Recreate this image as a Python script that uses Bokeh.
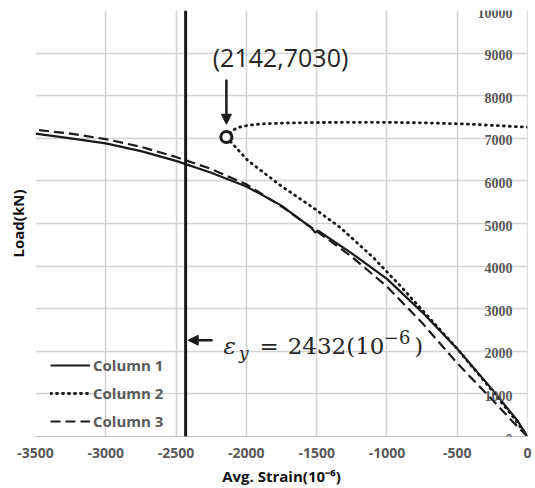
from bokeh.plotting import figure
from bokeh.models import (Range1d, FixedTicker, Span, Label, LabelSet, Arrow,
                          NormalHead, Legend, LegendItem, ColumnDataSource)
from bokeh.embed import file_html
from bokeh.resources import INLINE

# Load-strain curves (strain in 10^-6, load in kN)
strain_c1 = [0, -72, -250, -500, -750, -1000, -1250, -1490, -1512, -1535, -1750,
             -2000, -2250, -2500, -2750, -3000, -3250, -3500]
load_c1 = [0, 375, 1100, 2060, 2920, 3700, 4300, 4830, 4790, 4890, 5420,
           5870, 6190, 6470, 6700, 6880, 7000, 7110]

strain_c2 = [0, -100, -300, -500, -700, -900, -1100, -1330, -1520, -1760, -1990,
             -2142, -2100, -2063, -1980, -1880, -1700, -1500, -1300, -1000,
             -700, -400, 0]
load_c2 = [0, 450, 1270, 2060, 2790, 3520, 4210, 4900, 5360, 5900, 6480,
           7030, 7180, 7250, 7310, 7340, 7360, 7370, 7375, 7375,
           7360, 7330, 7260]

strain_c3 = [0, -100, -250, -500, -750, -1000, -1250, -1500, -1750, -2000,
             -2250, -2500, -2750, -3000, -3250, -3500]
load_c3 = [0, 330, 860, 1720, 2670, 3520, 4220, 4820, 5400, 5920,
           6280, 6560, 6800, 6980, 7110, 7200]

series_names = ["Column 1", "Column 2", "Column 3"]

# Marked point and yield strain
peak_strain = -2142
peak_load = 7030
yield_strain = -2432

strain_ticks = [-3500, -3000, -2500, -2000, -1500, -1000, -500, 0]
strain_tick_labels = [str(v) for v in strain_ticks]
load_ticks = [0, 1000, 2000, 3000, 4000, 5000, 6000, 7000, 8000, 9000, 10000]
load_tick_labels = [str(v) for v in load_ticks]

INK = "#1a1a1a"
TEXT = "#262626"
TICK_GREY = "#595959"
GRID = "#d4d4d4"

p = figure(width=535, height=488, output_backend="svg", toolbar_location=None,
           x_range=Range1d(-3500, 0), y_range=Range1d(0, 10000),
           min_border_left=35, min_border_right=8, min_border_top=10,
           min_border_bottom=52)
p.outline_line_color = None
p.background_fill_color = "white"

# x axis
xa = p.xaxis[0]
xa.ticker = FixedTicker(ticks=strain_ticks)
xa.major_label_overrides = dict(zip(strain_ticks, strain_tick_labels))
xa.axis_line_color = "#bfbfbf"
xa.major_tick_out = 0
xa.major_tick_in = 0
xa.minor_tick_out = 0
xa.minor_tick_in = 0
xa.major_label_standoff = 11
xa.major_label_text_font = "Open Sans"
xa.major_label_text_font_style = "bold"
xa.major_label_text_font_size = "14px"
xa.major_label_text_color = TICK_GREY
xa.axis_label = "Avg. Strain(10⁻⁶)"
xa.axis_label_text_font = "Open Sans"
xa.axis_label_text_font_style = "bold"
xa.axis_label_text_font_size = "15px"
xa.axis_label_text_color = "#111111"
xa.axis_label_standoff = 5

# left axis carries only the title
ya = p.yaxis[0]
ya.ticker = FixedTicker(ticks=[])
ya.axis_line_color = None
ya.major_tick_out = 0
ya.major_tick_in = 0
ya.minor_tick_out = 0
ya.minor_tick_in = 0
ya.major_label_standoff = 0
ya.axis_label = "Load(kN)"
ya.axis_label_text_font = "Open Sans"
ya.axis_label_text_font_style = "bold"
ya.axis_label_text_font_size = "15px"
ya.axis_label_text_color = "#111111"
ya.axis_label_standoff = 8

p.xgrid.ticker = FixedTicker(ticks=strain_ticks)
p.ygrid.ticker = FixedTicker(ticks=load_ticks)
p.xgrid.grid_line_color = GRID
p.ygrid.grid_line_color = GRID
p.xgrid.grid_line_width = 1.6
p.ygrid.grid_line_width = 1.6

# vertical axis line at zero strain
p.add_layout(Span(location=0, dimension="height", line_color="#bfbfbf", line_width=1.2))

# load tick labels sit just left of the zero-strain axis
tick_src = ColumnDataSource(dict(x=[0] * len(load_ticks), y=load_ticks,
                                 text=load_tick_labels))
p.add_layout(LabelSet(x="x", y="y", text="text", source=tick_src,
                      x_offset=-15, y_offset=-2, text_align="right",
                      text_baseline="middle",
                      text_font="Open Sans", text_font_style="bold",
                      text_font_size="14px", text_color=TICK_GREY))

# yield strain line
p.add_layout(Span(location=yield_strain, dimension="height",
                  line_color=INK, line_width=3))

r1 = p.line(strain_c1, load_c1, line_color=INK, line_width=2.2)
r2 = p.line(strain_c2, load_c2, line_color=INK, line_width=2.8,
            line_dash="1 5", line_cap="round")
r3 = p.line(strain_c3, load_c3, line_color=INK, line_width=2.2,
            line_dash="10 5")

p.scatter([peak_strain], [peak_load], marker="circle", size=11,
          fill_color="white", line_color=INK, line_width=3)

# marked point annotation
p.add_layout(Label(x=-1757, y=8900, text=f"({abs(peak_strain)},{peak_load})",
                   text_align="center", text_baseline="alphabetic",
                   text_font="Open Sans", text_font_size="25px",
                   text_color=TEXT))
p.add_layout(Arrow(end=NormalHead(size=10, fill_color=INK, line_color=INK),
                   x_start=peak_strain, y_start=8380,
                   x_end=peak_strain, y_end=7330,
                   line_color=INK, line_width=2.5))

# yield strain annotation
p.add_layout(Arrow(end=NormalHead(size=10, fill_color=INK, line_color=INK),
                   x_start=-2240, y_start=2260,
                   x_end=yield_strain + 18, y_end=2260,
                   line_color=INK, line_width=2.5))
serif = "DejaVu Serif"
p.add_layout(Label(x=-2163, y=2113, text="ε", text_font=serif,
                   text_font_style="italic", text_font_size="23px",
                   text_color=TEXT, text_baseline="alphabetic"))
p.add_layout(Label(x=-2052, y=1965, text="y", text_font=serif,
                   text_font_style="italic", text_font_size="17px",
                   text_color=TEXT, text_baseline="alphabetic"))
p.add_layout(Label(x=-1907, y=2113, text="=", text_font=serif,
                   text_font_size="23px", text_color=TEXT,
                   text_baseline="alphabetic"))
p.add_layout(Label(x=-1018, y=2113, text=f"{abs(yield_strain)}(10",
                   text_font=serif, text_font_size="23px", text_align="right",
                   text_color=TEXT, text_baseline="alphabetic"))
p.add_layout(Label(x=-1022, y=2330, text="−6", text_font=serif,
                   text_font_size="18px", text_color=TEXT,
                   text_baseline="alphabetic"))
p.add_layout(Label(x=-805, y=2113, text=")", text_font=serif,
                   text_font_size="23px", text_color=TEXT,
                   text_baseline="alphabetic"))

legend = Legend(items=[LegendItem(label=series_names[0], renderers=[r1]),
                       LegendItem(label=series_names[1], renderers=[r2]),
                       LegendItem(label=series_names[2], renderers=[r3])],
                location=(15, 5), margin=0, padding=5,
                glyph_width=40, glyph_height=20, label_height=20,
                spacing=8, label_standoff=3,
                background_fill_alpha=0, border_line_color=None,
                label_text_font="Open Sans", label_text_font_style="bold",
                label_text_font_size="15px", label_text_color=TICK_GREY)
p.add_layout(legend)

open("out.html", "w").write(file_html(p, INLINE))
